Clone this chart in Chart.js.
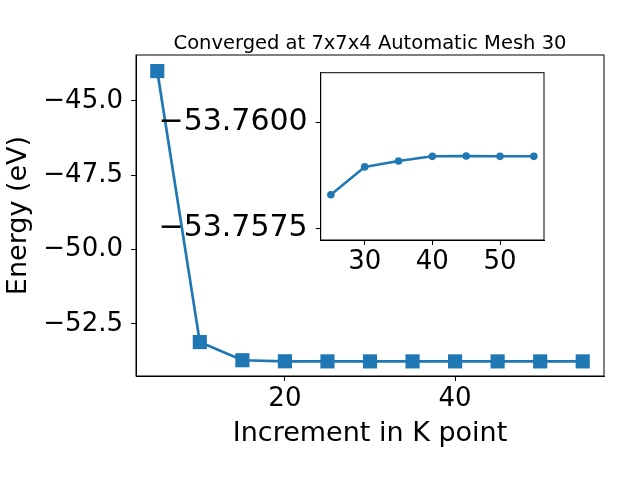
<!DOCTYPE html>
<html>
<head>
<meta charset="utf-8">
<script src="https://cdn.jsdelivr.net/npm/chart.js@4.4.0/dist/chart.umd.min.js"></script>
<style>
  html, body { margin: 0; padding: 0; background: #fff; }
  #wrap { position: relative; width: 640px; height: 480px; }
  #mainChart { position: absolute; left: 0; top: 0; }
  #insetChart { position: absolute; left: 150px; top: 60px; }
</style>
</head>
<body>
<div id="wrap">
  <canvas id="mainChart" width="640" height="480"></canvas>
  <canvas id="insetChart" width="410" height="230"></canvas>
</div>
<script>
// K point の増分とエネルギー (eV)
const kPoints = [5, 10, 15, 20, 25, 30, 35, 40, 45, 50, 55];
const energies = [-44.0, -53.11, -53.72, -53.756, -53.7583, -53.7590, -53.7591, -53.7592, -53.7592, -53.7592, -53.7592];

// 拡大図 (inset)
const insetK = [25, 30, 35, 40, 45, 50, 55];
const insetEnergies = [-53.75829, -53.75895, -53.75909, -53.75920, -53.75921, -53.75920, -53.75920];

const mainXTicks = [20, 40];
const mainYTicks = [-52.5, -50.0, -47.5, -45.0];
const insetXTicks = [30, 40, 50];
const insetYTicks = [-53.7600, -53.7575];

const titleText = "Converged at 7x7x4 Automatic Mesh 30";
const blue = "#1f77b4";
const FONT = "'DejaVu Sans', sans-serif";

function minus(v, digits) {
  return v.toFixed(digits).replace("-", "\u2212");
}

// 枠線 (matplotlib風のボックス)
const framePlugin = {
  id: "frame",
  beforeDatasetsDraw(chart) {
    const a = chart.chartArea;
    const ctx = chart.ctx;
    ctx.save();
    ctx.strokeStyle = "#000";
    ctx.lineWidth = 1;
    ctx.strokeRect(a.left, a.top, a.right - a.left, a.bottom - a.top);
    ctx.restore();
  }
};

const whiteAreaPlugin = {
  id: "whiteArea",
  beforeDraw(chart) {
    const a = chart.chartArea;
    const ctx = chart.ctx;
    ctx.save();
    ctx.fillStyle = "#fff";
    ctx.fillRect(a.left, a.top, a.right - a.left, a.bottom - a.top);
    ctx.restore();
  }
};

const titlePlugin = {
  id: "topTitle",
  afterDraw(chart) {
    const a = chart.chartArea;
    const ctx = chart.ctx;
    ctx.save();
    ctx.font = "19.5px " + FONT;
    ctx.fillStyle = "#000";
    ctx.textAlign = "center";
    ctx.textBaseline = "alphabetic";
    ctx.fillText(titleText, (a.left + a.right) / 2, 49);
    ctx.restore();
  }
};

// 目盛ラベルによる余白を消す
function noPad(s) {
  s.paddingTop = 0;
  s.paddingBottom = 0;
  s.paddingLeft = 0;
  s.paddingRight = 0;
}

// =========================
// メインのグラフ
// =========================
new Chart(document.getElementById("mainChart"), {
  type: "line",
  data: {
    datasets: [{
      data: kPoints.map((k, i) => ({ x: k, y: energies[i] })),
      borderColor: blue,
      backgroundColor: blue,
      borderWidth: 2.7,
      pointStyle: "rect",
      pointRadius: 10,
      pointHoverRadius: 10,
      pointBorderWidth: 0,
      tension: 0,
      clip: false
    }]
  },
  options: {
    responsive: false,
    animation: false,
    events: [],
    layout: { padding: { top: 55, right: 36, left: 0, bottom: 0 } },
    plugins: { legend: { display: false }, tooltip: { enabled: false } },
    scales: {
      x: {
        type: "linear",
        min: 2.5,
        max: 57.5,
        afterBuildTicks: s => { s.ticks = mainXTicks.map(v => ({ value: v })); },
        afterFit: s => { s.height = 104; noPad(s); },
        grid: { drawOnChartArea: false, drawTicks: true, tickLength: 5, color: "#000" },
        border: { display: true, color: "#000", width: 1 },
        ticks: { font: { family: FONT, size: 26 }, color: "#000", padding: 3, maxRotation: 0,
                 callback: v => String(v) },
        title: { display: true, text: "Increment in K point", color: "#000",
                 font: { family: FONT, size: 27 }, padding: { top: 0, bottom: 30 } }
      },
      y: {
        min: -54.25,
        max: -43.46,
        afterBuildTicks: s => { s.ticks = mainYTicks.map(v => ({ value: v })); },
        afterFit: s => { s.width = 136; noPad(s); },
        grid: { drawOnChartArea: false, drawTicks: true, tickLength: 5, color: "#000" },
        border: { display: true, color: "#000", width: 1 },
        ticks: { font: { family: FONT, size: 26 }, color: "#000", padding: 8,
                 callback: v => minus(v, 1) },
        title: { display: true, text: "Energy (eV)", color: "#000",
                 font: { family: FONT, size: 27 }, padding: { top: 3, bottom: 0 } }
      }
    }
  },
  plugins: [framePlugin, titlePlugin]
});

// =========================
// 拡大図 (inset)
// =========================
new Chart(document.getElementById("insetChart"), {
  type: "line",
  data: {
    datasets: [{
      data: insetK.map((k, i) => ({ x: k, y: insetEnergies[i] })),
      borderColor: blue,
      backgroundColor: blue,
      borderWidth: 2.5,
      pointStyle: "circle",
      pointRadius: 3.8,
      pointHoverRadius: 3.8,
      pointBorderWidth: 0,
      tension: 0,
      clip: false
    }]
  },
  options: {
    responsive: false,
    animation: false,
    events: [],
    layout: { padding: { top: 12.7, right: 16, left: 0, bottom: 0 } },
    plugins: { legend: { display: false }, tooltip: { enabled: false } },
    scales: {
      x: {
        type: "linear",
        min: 23.5,
        max: 56.5,
        afterBuildTicks: s => { s.ticks = insetXTicks.map(v => ({ value: v })); },
        afterFit: s => { s.height = 50; noPad(s); },
        grid: { drawOnChartArea: false, drawTicks: true, tickLength: 5, color: "#000" },
        border: { display: true, color: "#000", width: 1 },
        ticks: { font: { family: FONT, size: 26 }, color: "#000", padding: 2, maxRotation: 0,
                 callback: v => String(v) }
      },
      y: {
        reverse: true,
        min: -53.76118,
        max: -53.75722,
        afterBuildTicks: s => { s.ticks = insetYTicks.map(v => ({ value: v })); },
        afterFit: s => { s.width = 170.7; noPad(s); },
        grid: { drawOnChartArea: false, drawTicks: true, tickLength: 5, color: "#000" },
        border: { display: true, color: "#000", width: 1 },
        ticks: { font: { family: FONT, size: 30 }, color: "#000", padding: 8,
                 callback: v => minus(v, 4) }
      }
    }
  },
  plugins: [whiteAreaPlugin, framePlugin]
});
</script>
</body>
</html>
